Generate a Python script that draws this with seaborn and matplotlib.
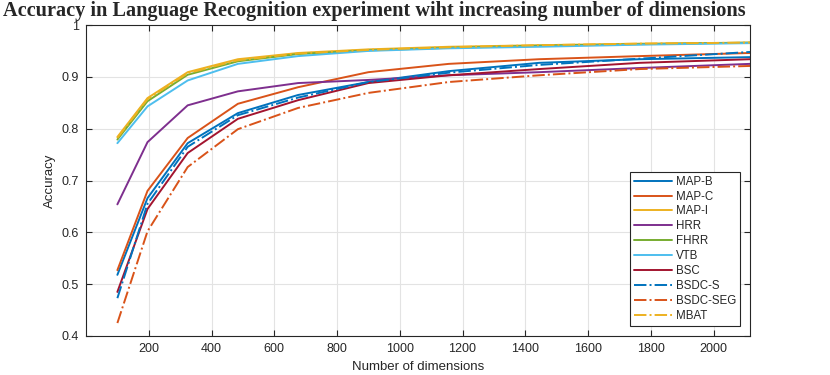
import matplotlib
matplotlib.use("Agg")
import matplotlib.pyplot as plt
import seaborn as sns
import numpy as np
import pandas as pd

dims = [100, 196, 324, 484, 676, 900, 1156, 1444, 1764, 2116]

map_b    = [0.518, 0.666, 0.772, 0.830, 0.865, 0.890, 0.911, 0.927, 0.934, 0.938]
map_c    = [0.527, 0.680, 0.782, 0.848, 0.880, 0.909, 0.925, 0.934, 0.940, 0.946]
map_i    = [0.784, 0.859, 0.909, 0.934, 0.946, 0.953, 0.958, 0.961, 0.964, 0.966]
hrr      = [0.654, 0.774, 0.845, 0.872, 0.888, 0.894, 0.903, 0.909, 0.917, 0.925]
fhrr     = [0.779, 0.853, 0.904, 0.930, 0.944, 0.951, 0.956, 0.960, 0.963, 0.966]
vtb      = [0.772, 0.843, 0.893, 0.925, 0.940, 0.950, 0.955, 0.958, 0.962, 0.965]
bsc      = [0.485, 0.645, 0.753, 0.819, 0.855, 0.888, 0.903, 0.915, 0.927, 0.934]
bsdc_s   = [0.473, 0.655, 0.765, 0.826, 0.860, 0.890, 0.908, 0.923, 0.935, 0.948]
bsdc_seg = [0.425, 0.602, 0.726, 0.799, 0.840, 0.869, 0.890, 0.903, 0.915, 0.921]
mbat     = [0.782, 0.857, 0.907, 0.932, 0.945, 0.952, 0.957, 0.961, 0.964, 0.966]

names = ["MAP-B", "MAP-C", "MAP-I", "HRR", "FHRR", "VTB", "BSC", "BSDC-S", "BSDC-SEG", "MBAT"]
series = [map_b, map_c, map_i, hrr, fhrr, vtb, bsc, bsdc_s, bsdc_seg, mbat]

colors = ["#0072BD", "#D95319", "#EDB120", "#7E2F8E", "#77AC30", "#4DBEEE", "#A2142F",
          "#0072BD", "#D95319", "#EDB120"]
styles = ["-"] * 7 + ["-."] * 3

sns.set_style("white")
plt.rcParams["font.family"] = ["Liberation Sans", "DejaVu Sans"]

fig = plt.figure(figsize=(8.3, 3.75), dpi=100)
ax = fig.add_axes([86 / 830, 1 - 336 / 375, (750 - 86) / 830, (336 - 25) / 375])

for name, vals, c, ls in zip(names, series, colors, styles):
    df = pd.DataFrame({"dim": dims, "acc": vals})
    kw = dict(dashes=(6, 2.5, 1.2, 2.5)) if ls == "-." else {}
    sns.lineplot(data=df, x="dim", y="acc", ax=ax, color=c, linestyle=ls,
                 linewidth=1.4, label=name, **kw)

ax.set_xlim(0, 2116)
ax.set_ylim(0.4, 1.0)
ax.set_xticks(np.arange(200, 2001, 200))
ax.set_yticks(np.arange(0.4, 1.001, 0.1))
ax.set_yticklabels(["0.4", "0.5", "0.6", "0.7", "0.8", "0.9", "1"])
ax.grid(True, color="#e3e3e3", linewidth=0.8)
ax.set_axisbelow(True)
edge = "#262626"
for s in ax.spines.values():
    s.set_color(edge)
    s.set_linewidth(0.8)
ax.tick_params(direction="in", length=4, width=0.8, color=edge, labelcolor=edge,
               labelsize=9, top=True, right=True, bottom=True, left=True, pad=5)
ax.set_xlabel("Number of dimensions", fontsize=9.5, color=edge, labelpad=4)
ax.set_ylabel("Accuracy", fontsize=9.5, color=edge, labelpad=4)

leg = ax.legend(loc="lower right", fontsize=8.3, frameon=True, fancybox=False,
                edgecolor=edge, framealpha=1, handlelength=3.3, borderpad=0.35,
                labelspacing=0.25, handletextpad=0.3, borderaxespad=0.3,
                bbox_to_anchor=(0.99, 0.022))
leg.get_frame().set_linewidth(0.8)

fig.text(3 / 830, 1 - 11 / 375, "Accuracy in Language Recognition experiment wiht increasing number of dimensions",
         ha="left", va="center", fontsize=14.6, fontweight="bold",
         family=["Liberation Serif", "DejaVu Serif"])

fig.savefig("out.png", dpi=100)
